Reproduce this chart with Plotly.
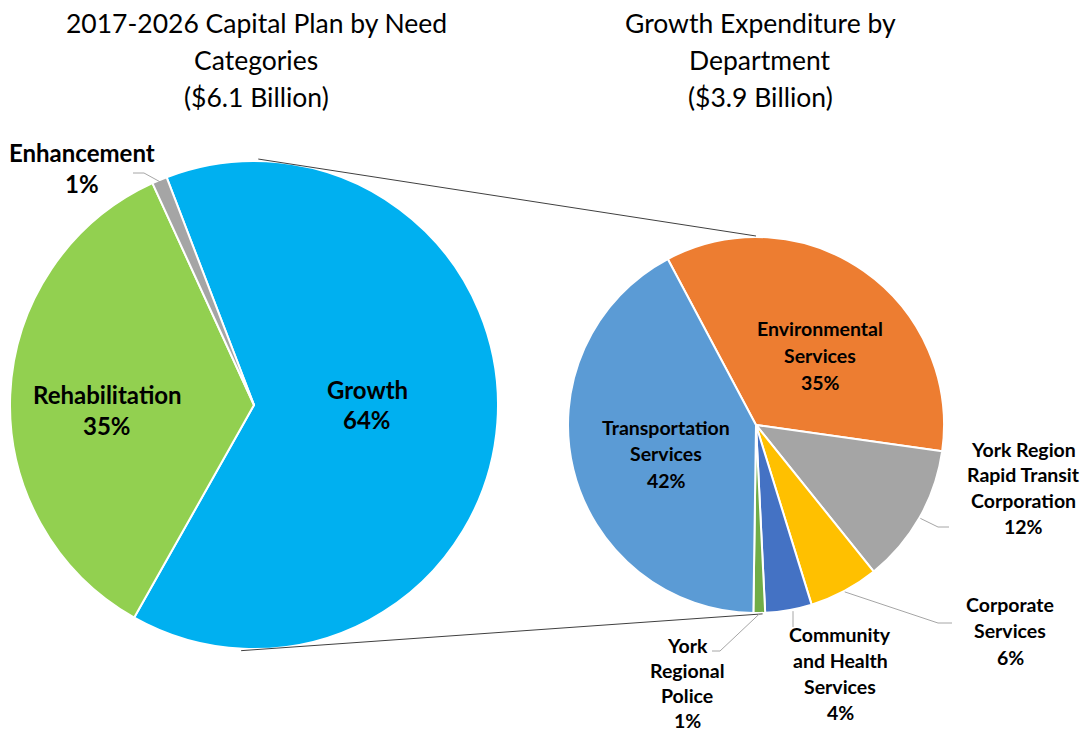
import math
import plotly.graph_objects as go

# page is shown with the browser's default 8px body margin
OFF = 8
W, H = 1088 - OFF, 734 - OFF

# ---------------- data ----------------
need_categories = ["Growth", "Rehabilitation", "Enhancement"]
need_shares = [64, 35, 1]
need_colors = ["#00B0F0", "#92D050", "#A5A5A5"]
need_labels = ["Growth", "Rehabilitation", "Enhancement"]

departments = ["Environmental Services", "York Region Rapid Transit Corporation",
               "Corporate Services", "Community and Health Services",
               "York Regional Police", "Transportation Services"]
dept_shares = [35, 12, 6, 4, 1, 42]
dept_colors = ["#ED7D31", "#A5A5A5", "#FFC000", "#4472C4", "#70AD47", "#5B9BD5"]
dept_labels = ["Environmental<br>Services", "York Region<br>Rapid Transit<br>Corporation",
               "Corporate<br>Services", "Community<br>and Health<br>Services",
               "York<br>Regional<br>Police", "Transportation<br>Services"]

left_title = ["2017-2026 Capital Plan by Need", "Categories", "($6.1 Billion)"]
right_title = ["Growth Expenditure by", "Department", "($3.9 Billion)"]

# ---------------- geometry (window pixels) ----------------
L_CX, L_CY, L_R, L_ROT = 254, 405, 244, 339
R_CX, R_CY, R_R, R_ROT = 756, 425, 188, 332
FONT = "Lato"
TITLE_SIZE = 26.5
BIG_SIZE = 24
SMALL_SIZE = 19.5


def px(x):
    return (x - OFF) / W


def py(y):
    return 1 - (y - OFF) / H


def domain(cx, cy, r):
    return dict(x=[px(cx - r), px(cx + r)], y=[py(cy + r), py(cy - r)])


def mid_angles(values, rot):
    tot = sum(values)
    out, a = [], rot
    for v in values:
        span = 360 * v / tot
        out.append(a + span / 2)
        a += span
    return out


def on_circle(cx, cy, r, ang):
    t = math.radians(ang)
    return cx + r * math.sin(t), cy - r * math.cos(t)


fig = go.Figure()
fig.add_trace(go.Pie(labels=need_categories, values=need_shares, sort=False,
                     direction="clockwise", rotation=L_ROT, textinfo="none",
                     marker=dict(colors=need_colors, line=dict(color="white", width=2)),
                     domain=domain(L_CX, L_CY, L_R), showlegend=False, hoverinfo="label+percent"))
fig.add_trace(go.Pie(labels=departments, values=dept_shares, sort=False,
                     direction="clockwise", rotation=R_ROT, textinfo="none",
                     marker=dict(colors=dept_colors, line=dict(color="white", width=2)),
                     domain=domain(R_CX, R_CY, R_R), showlegend=False, hoverinfo="label+percent"))

shapes = []
annotations = []


def add_text(lines, x, y0, pitch, size, weight=700):
    for i, t in enumerate(lines):
        annotations.append(dict(x=px(x), y=py(y0 + i * pitch), xref="paper", yref="paper",
                                text=t, showarrow=False, xanchor="center", yanchor="middle",
                                font=dict(family=FONT, size=size, color="#000000", weight=weight)))


def line(p0, p1, color, width=1):
    shapes.append(dict(type="line", xref="paper", yref="paper",
                       x0=px(p0[0]), y0=py(p0[1]), x1=px(p1[0]), y1=py(p1[1]),
                       line=dict(color=color, width=width)))


# titles
add_text(left_title, 256, 23, 37, TITLE_SIZE, weight=400)
add_text(right_title, 760, 23, 37, TITLE_SIZE, weight=400)

# connector lines between the pies
line(on_circle(L_CX, L_CY, L_R + 2, 1), on_circle(R_CX, R_CY, R_R + 1, 0), "#404040")
line(on_circle(L_CX, L_CY, L_R + 2, 183), on_circle(R_CX, R_CY, R_R + 1, 178), "#404040")

# left pie labels: (x, first line y, pitch, size, leader elbow/end or None)
left_pos = {
    "Growth": (367, 389, 31, BIG_SIZE, None),
    "Rehabilitation": (107, 394, 31, BIG_SIZE, None),
    "Enhancement": (82, 152, 31, BIG_SIZE, [(144, 173), (133, 173)]),
}
lm = mid_angles(need_shares, L_ROT)
for name, lab, v, a in zip(need_categories, need_labels, need_shares, lm):
    x, y0, pitch, size, lead = left_pos[name]
    add_text(lab.split("<br>") + [f"{v}%"], x, y0, pitch, size)
    if lead:
        pts = [on_circle(L_CX, L_CY, L_R - 2, a)] + lead
        for p0, p1 in zip(pts[:-1], pts[1:]):
            line(p0, p1, "#A6A6A6")

right_pos = {
    "Environmental Services": (820, 328, 27, SMALL_SIZE, None),
    "York Region Rapid Transit Corporation": (1023, 449, 25.7, SMALL_SIZE, [(938, 527), (949, 527)]),
    "Corporate Services": (1010, 604, 26.5, SMALL_SIZE, [(938, 623), (952, 623)]),
    "Community and Health Services": (840, 634, 26, SMALL_SIZE, [(793, 627)]),
    "York Regional Police": (687, 645, 25.3, SMALL_SIZE, [(720, 651), (712, 651)]),
    "Transportation Services": (666, 427, 26.5, SMALL_SIZE, None),
}
rm = mid_angles(dept_shares, R_ROT)
for name, lab, v, a in zip(departments, dept_labels, dept_shares, rm):
    x, y0, pitch, size, lead = right_pos[name]
    add_text(lab.split("<br>") + [f"{v}%"], x, y0, pitch, size)
    if lead:
        start = on_circle(R_CX, R_CY, R_R + 1, a)
        if name == "Community and Health Services":
            start = (lead[0][0], on_circle(R_CX, R_CY, R_R + 1, a)[1])
        pts = [start] + lead
        for p0, p1 in zip(pts[:-1], pts[1:]):
            line(p0, p1, "#A6A6A6")

fig.update_layout(width=W, height=H, margin=dict(l=0, r=0, t=0, b=0),
                  paper_bgcolor="white", plot_bgcolor="white",
                  shapes=shapes, annotations=annotations, showlegend=False)

fig.write_html("out.html")
